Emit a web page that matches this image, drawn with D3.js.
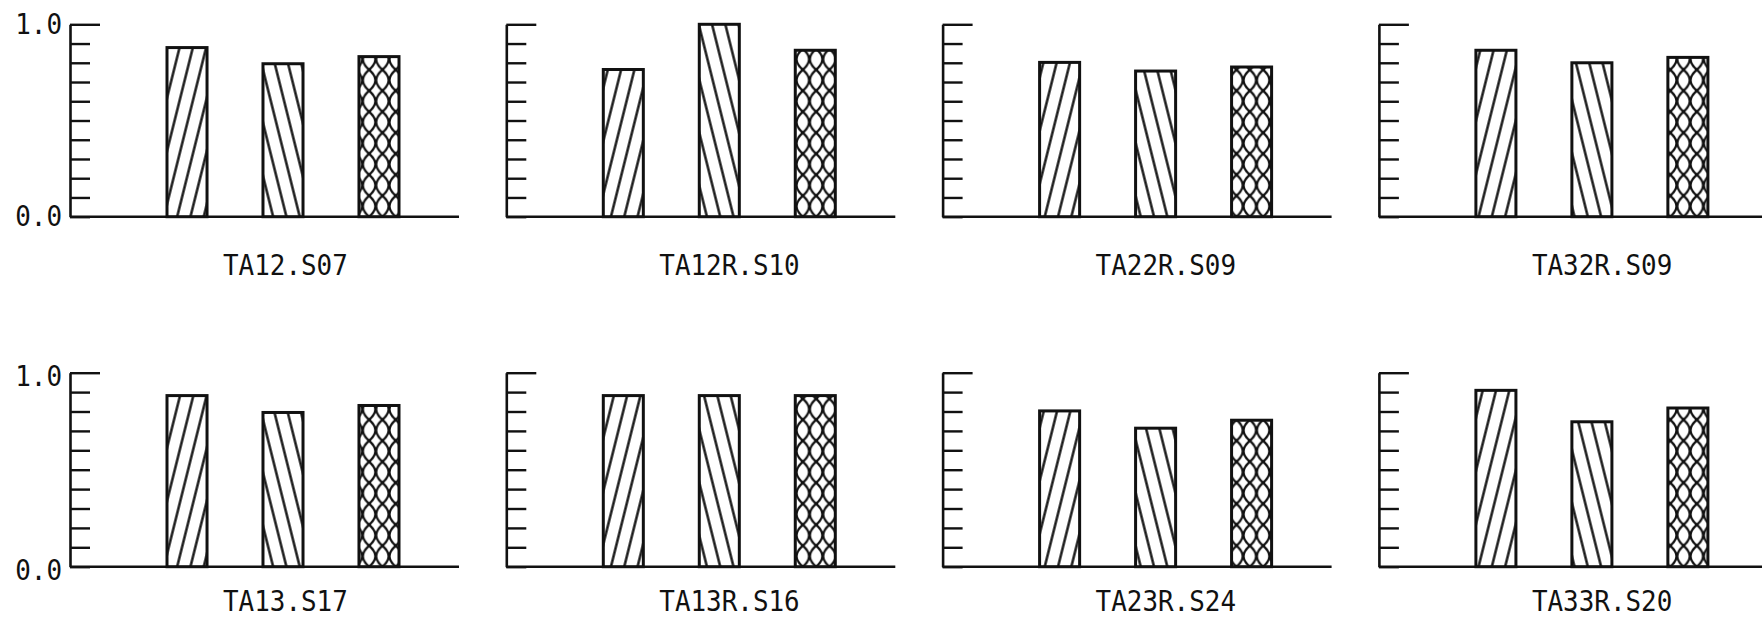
<!DOCTYPE html>
<html>
<head>
<meta charset="utf-8">
<script src="https://cdn.jsdelivr.net/npm/d3@7"></script>
<style>
  html, body { margin: 0; padding: 0; background: #fff; }
  svg { display: block; }
</style>
</head>
<body>
<svg id="chart" width="1762" height="618"></svg>
<script>
// Panel (test case) names, in reading order: top row then bottom row
const panelNames = ["TA12.S07", "TA12R.S10", "TA22R.S09", "TA32R.S09",
                    "TA13.S17", "TA13R.S16", "TA23R.S24", "TA33R.S20"];

// Three measures per panel, one bar each (hatched "/", "\" and cross-hatched)
const seriesKeys = ["forward", "backward", "cross"];
const forwardValues  = [0.879, 0.765, 0.802, 0.865, 0.882, 0.882, 0.803, 0.909];
const backwardValues = [0.795, 1.000, 0.757, 0.800, 0.795, 0.882, 0.714, 0.747];
const crossValues    = [0.832, 0.865, 0.778, 0.828, 0.831, 0.882, 0.755, 0.818];

// Y axis: ticks every 0.1, only the ends are labelled
const yTickValues = [0.0, 0.1, 0.2, 0.3, 0.4, 0.5, 0.6, 0.7, 0.8, 0.9, 1.0];
const yTickLabels = ["1.0", "0.0"];

const ink = "#111";
const fontFamily = "'DejaVu Sans Mono', 'Liberation Mono', monospace";
const fontSize = 28;
const charPitch = 15.6;

const svg = d3.select("#chart");
const defs = svg.append("defs");

// Panel grid
const colScale = d3.scaleBand().domain(d3.range(4)).range([70, 70 + 4 * 436.3]);
const rows = [
  { top: 24.3,  base: 216.7, labelY: 275, tickLabelDy: 9.5 },
  { top: 372.7, base: 566.7, labelY: 611, tickLabelDy: 13 }
];

const valuesBySeries = {
  forward: forwardValues,
  backward: backwardValues,
  cross: crossValues
};

// Hatch pattern definitions
const lineGap = 12.9;           // perpendicular gap of single hatch lines
const lineTilt = 14.04;         // degrees from vertical (slope about 4:1)
const lensW = 13.3, lensH = 21; // cross-hatch cell: one pointed lens per cell

function makePattern(id, kind, x0, y0) {
  if (kind === "cross") {
    const p = defs.append("pattern")
      .attr("id", id)
      .attr("patternUnits", "userSpaceOnUse")
      .attr("width", lensW).attr("height", lensH)
      .attr("patternTransform", `translate(${x0},${y0})`);
    const m = lensW / 2, c = -m + 0.8;
    p.append("path")
      .attr("d",
        `M${m},0 Q${c},${lensH * 0.5} ${m},${lensH}` +
        `M${m},0 Q${lensW - c},${lensH * 0.5} ${m},${lensH}`)
      .attr("fill", "none")
      .attr("stroke", ink)
      .attr("stroke-width", 2.3);
  } else {
    const angle = kind === "forward" ? lineTilt : -lineTilt;
    const p = defs.append("pattern")
      .attr("id", id)
      .attr("patternUnits", "userSpaceOnUse")
      .attr("width", lineGap).attr("height", 20)
      .attr("patternTransform", `translate(${x0},${y0}) rotate(${angle})`);
    p.append("line")
      .attr("x1", lineGap / 2).attr("x2", lineGap / 2)
      .attr("y1", -2).attr("y2", 22)
      .attr("stroke", ink)
      .attr("stroke-width", 2.4);
  }
}

function monoText(sel, str) {
  sel.text(str)
    .attr("font-family", fontFamily)
    .attr("font-size", fontSize)
    .attr("fill", ink)
    .attr("textLength", str.length * charPitch)
    .attr("lengthAdjust", "spacingAndGlyphs");
}

panelNames.forEach((name, i) => {
  const row = rows[Math.floor(i / 4)];
  const col = i % 4;
  const ox = colScale(col);

  const y = d3.scaleLinear().domain([0, 1]).range([row.base, row.top]);
  const x = d3.scaleBand().domain(seriesKeys).range([97, 329]).paddingInner(0.583);

  const g = svg.append("g").attr("transform", `translate(${ox},0)`);

  // baseline
  g.append("line")
    .attr("x1", 0).attr("x2", 389)
    .attr("y1", y(0)).attr("y2", y(0))
    .attr("stroke", ink).attr("stroke-width", 2.4);

  // y axis with inward ticks
  const axis = g.append("g")
    .call(d3.axisRight(y).tickValues(yTickValues).tickSize(20).tickSizeOuter(0).tickFormat(""));
  axis.select(".domain").attr("stroke", ink).attr("stroke-width", 2.6);
  axis.selectAll(".tick line").attr("stroke", ink).attr("stroke-width", 2.4);
  axis.selectAll(".tick").filter(d => d === 1).select("line").attr("x2", 30);

  // end labels on the first column only
  if (col === 0) {
    yTickLabels.forEach(lbl => {
      const v = +lbl;
      g.append("text")
        .attr("x", -8 - lbl.length * charPitch)
        .attr("y", y(v) + row.tickLabelDy)
        .call(monoText, lbl);
    });
  }

  // bars
  seriesKeys.forEach(key => {
    const v = valuesBySeries[key][i];
    const bx = x(key), bw = x.bandwidth();
    const id = `hatch-${i}-${key}`;
    makePattern(id, key, ox + bx, y(0));
    g.append("rect")
      .attr("x", bx).attr("y", y(v))
      .attr("width", bw).attr("height", y(0) - y(v))
      .attr("fill", "#fff");
    g.append("rect")
      .attr("x", bx).attr("y", y(v))
      .attr("width", bw).attr("height", y(0) - y(v))
      .attr("fill", `url(#${id})`)
      .attr("stroke", ink)
      .attr("stroke-width", 3);
  });

  // panel label
  g.append("text")
    .attr("x", 153)
    .attr("y", row.labelY)
    .call(monoText, name);
});
</script>
</body>
</html>
